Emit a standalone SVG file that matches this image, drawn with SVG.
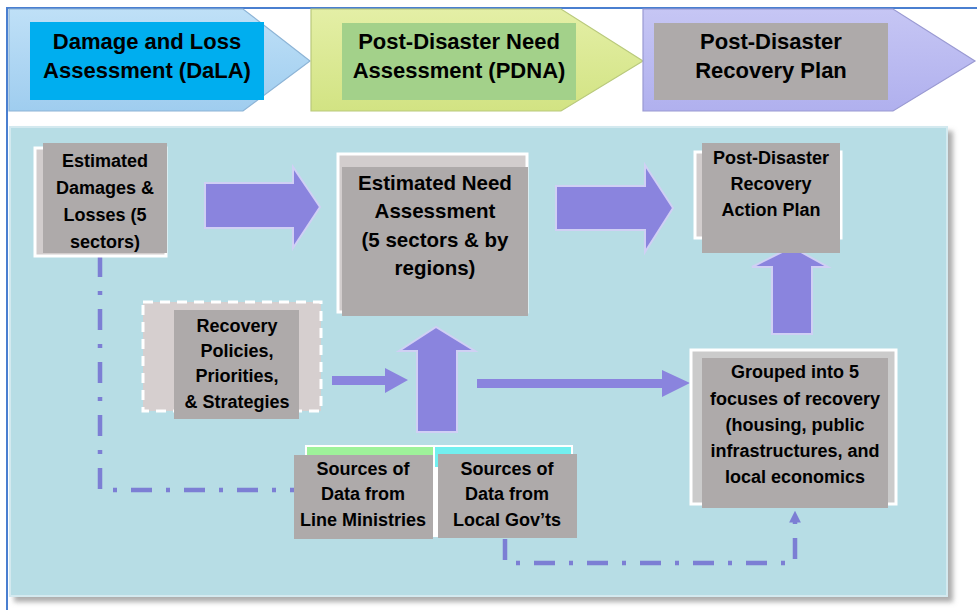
<svg xmlns="http://www.w3.org/2000/svg" width="977" height="610" viewBox="0 0 977 610">
<defs>
<style>
.t{font-family:"Liberation Sans",Arial,sans-serif;font-weight:bold;fill:#000;text-anchor:middle}
.h{font-size:22px}
.n{font-size:18px}
.box{fill:#aeaaaa}
.frame{fill:#d2cdcd;stroke:#ffffff;stroke-width:3}
.big{fill:#8a84de;stroke:#d0d0f4;stroke-width:2}
.dd{fill:none;stroke:#7c7ed4;stroke-width:4.5;stroke-dasharray:21 14 4 14}
</style>
<linearGradient id="gb" x1="0" y1="0" x2="0" y2="1"><stop offset="0" stop-color="#bfe0f7"/><stop offset="1" stop-color="#9fcdef"/></linearGradient>
<linearGradient id="gg" x1="0" y1="0" x2="0" y2="1"><stop offset="0" stop-color="#e4efa6"/><stop offset="1" stop-color="#d2e383"/></linearGradient>
<linearGradient id="gp" x1="0" y1="0" x2="0" y2="1"><stop offset="0" stop-color="#c6c6f4"/><stop offset="1" stop-color="#b0b0ee"/></linearGradient>
<filter id="sh" x="-5%" y="-5%" width="112%" height="115%"><feDropShadow dx="5" dy="5" stdDeviation="2.5" flood-color="#777" flood-opacity="0.6"/></filter>
<marker id="ah" markerWidth="2.6" markerHeight="2.6" refX="1" refY="1.3" orient="auto" markerUnits="strokeWidth"><path d="M0,0 L2.6,1.3 L0,2.6 z" fill="#7c7ed4"/></marker>
</defs>
<rect width="977" height="610" fill="#ffffff"/>
<path d="M7,610 L7,8 L977,8" fill="none" stroke="#4a7fd0" stroke-width="2"/>

<g id="header-dala">
<path d="M9,9 L243,9 L310,61 L243,111 L9,111 z" fill="url(#gb)" stroke="#8db4d6" stroke-width="1.2"/>
<rect x="30" y="22" width="234" height="78" fill="#00aeef"/>
<text class="t h" x="147" y="49">Damage and Loss</text>
<text class="t h" x="147" y="78">Assessment (DaLA)</text>
</g>
<g id="header-pdna">
<path d="M311,9 L561,9 L643,61 L561,111 L311,111 z" fill="url(#gg)" stroke="#b9c97c" stroke-width="1.2"/>
<rect x="342" y="23" width="234" height="77" fill="#a3d18a"/>
<text class="t h" x="459" y="49">Post-Disaster Need</text>
<text class="t h" x="459" y="78">Assessment (PDNA)</text>
</g>
<g id="header-plan">
<path d="M643,9 L893,9 L975,61 L893,111 L643,111 z" fill="url(#gp)" stroke="#9a9ad2" stroke-width="1.2"/>
<rect x="654" y="23" width="234" height="77" fill="#aeaaaa"/>
<text class="t h" x="771" y="49">Post-Disaster</text>
<text class="t h" x="771" y="78">Recovery Plan</text>
</g>

<g id="panel">
<rect x="10" y="127" width="937" height="469" fill="#b7dde5" stroke="#d3e9ef" stroke-width="2" filter="url(#sh)"/>
</g>

<g id="connectors">
<path class="big" d="M205,183 L293,183 L293,167 L320,207 L293,248 L293,228 L205,228 z"/>
<path class="big" d="M556,186 L645,186 L645,165 L673,208 L645,252 L645,230 L556,230 z"/>
<path class="big" d="M772,334 L772,267 L752,267 L792,247 L828,267 L812,267 L812,334 z"/>
<path class="big" d="M417,432 L417,351 L399,351 L436,327 L475,351 L457,351 L457,432 z"/>
<path d="M332,376 L385,376 L385,368 L408,380 L385,393 L385,385 L332,385 z" fill="#8a84de"/>
<path d="M477,379 L662,379 L662,370 L690,383 L662,397 L662,388 L477,388 z" fill="#8a84de"/>
<path class="dd" d="M100,256 L100,490 L294,490"/>
<path class="dd" d="M505,539 L505,563 L795,563 L795,518" marker-end="url(#ah)"/>
</g>

<g id="node-damages">
<rect class="frame" x="35" y="148" width="131" height="108"/>
<rect class="box" x="43" y="143" width="124" height="110"/>
<text class="t n" x="105" y="167">Estimated</text>
<text class="t n" x="105" y="194">Damages &amp;</text>
<text class="t n" x="105" y="221">Losses (5</text>
<text class="t n" x="105" y="248">sectors)</text>
</g>

<g id="node-need">
<rect class="frame" x="338" y="154" width="189" height="158"/>
<rect class="box" x="342" y="167" width="186" height="149"/>
<text class="t" style="font-size:20.5px" x="435" y="190">Estimated Need</text>
<text class="t" style="font-size:20.5px" x="435" y="218">Assessment</text>
<text class="t" style="font-size:20.5px" x="435" y="247">(5 sectors &amp; by</text>
<text class="t" style="font-size:20.5px" x="435" y="275">regions)</text>
</g>

<g id="node-action-plan">
<rect class="frame" x="695" y="152" width="146" height="86"/>
<rect class="box" x="702" y="143" width="138" height="110"/>
<text class="t n" x="771" y="164">Post-Disaster</text>
<text class="t n" x="771" y="190">Recovery</text>
<text class="t n" x="771" y="216">Action Plan</text>
</g>

<g id="node-policies">
<rect x="143" y="302" width="178" height="109" fill="#d6cfcf" stroke="#ffffff" stroke-width="3" stroke-dasharray="10 7"/>
<rect class="box" x="174" y="310" width="125" height="109"/>
<text class="t n" x="237" y="332">Recovery</text>
<text class="t n" x="237" y="357">Policies,</text>
<text class="t n" x="237" y="382">Priorities,</text>
<text class="t n" x="237" y="408">&amp; Strategies</text>
</g>

<g id="node-sources-frame">
<rect x="305" y="445" width="268" height="92" fill="#ffffff"/>
<rect x="307" y="447" width="126" height="20" fill="#9ef29a"/>
<rect x="435" y="447" width="136" height="20" fill="#72efef"/>
</g>
<g id="node-line-ministries">
<rect class="box" x="294" y="455" width="139" height="84"/>
<text class="t n" x="363" y="475">Sources of</text>
<text class="t n" x="363" y="500">Data from</text>
<text class="t n" x="363" y="526">Line Ministries</text>
</g>
<g id="node-local-govts">
<rect class="box" x="438" y="454" width="139" height="84"/>
<text class="t n" x="507" y="475">Sources of</text>
<text class="t n" x="507" y="500">Data from</text>
<text class="t n" x="507" y="526">Local Gov’ts</text>
</g>

<g id="node-grouped">
<rect x="691" y="350" width="205" height="154" fill="#cbcbcb" stroke="#ffffff" stroke-width="3"/>
<rect class="box" x="702" y="358" width="186" height="150"/>
<text class="t n" x="795" y="378">Grouped into 5</text>
<text class="t n" x="795" y="405">focuses of recovery</text>
<text class="t n" x="795" y="431">(housing, public</text>
<text class="t n" x="795" y="457">infrastructures, and</text>
<text class="t n" x="795" y="483">local economics</text>
</g>
</svg>
